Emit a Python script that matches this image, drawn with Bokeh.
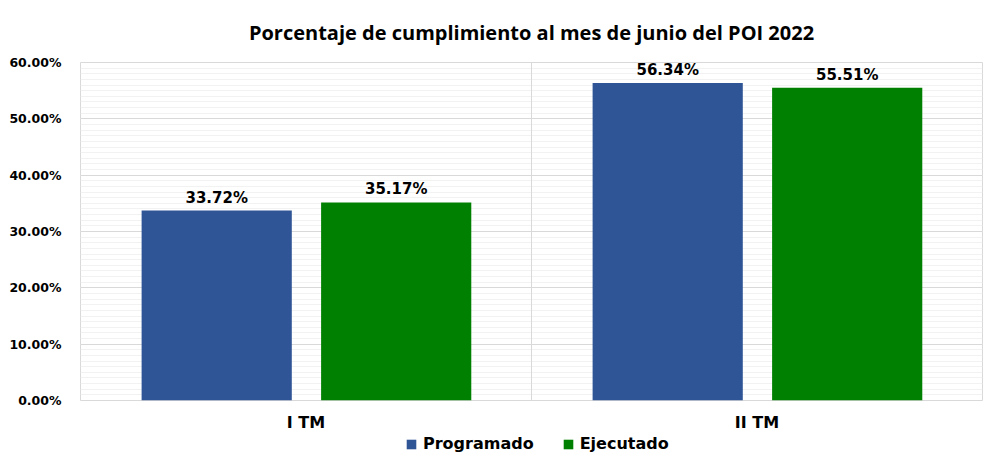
from bokeh.plotting import figure
from bokeh.models import ColumnDataSource, FactorRange, Range1d, NumeralTickFormatter, Span, Legend, LegendItem, Title, FixedTicker
from bokeh.layouts import column
from bokeh.transform import dodge
from bokeh.core.properties import value
from bokeh.embed import file_html
from bokeh.resources import INLINE

categories = ["I TM", "II TM"]
programado = [0.3372, 0.5634]
ejecutado = [0.3517, 0.5551]
prog_labels = ["33.72%", "56.34%"]
ejec_labels = ["35.17%", "55.51%"]
series_names = ["Programado", "Ejecutado"]
colors = ["#2F5597", "#008000"]

src = ColumnDataSource(dict(cat=categories, prog=programado, ejec=ejecutado,
                            pl=prog_labels, el=ejec_labels))

p = figure(width=984, height=434, x_range=FactorRange(*categories, range_padding=0),
           y_range=Range1d(0, 0.6), output_backend="svg", toolbar_location=None,
           min_border_left=80, min_border_right=2, min_border_top=62, min_border_bottom=34)

p.title = Title(text="Porcentaje de cumplimiento al mes de junio del POI 2022", align="center",
                text_font="Open Sans", text_font_size="20px", text_font_style="bold",
                text_color="#000000", standoff=33)

r1 = p.vbar(x=dodge("cat", -0.198, range=p.x_range), top="prog", width=0.333, source=src,
            color=colors[0], line_color=None)
r2 = p.vbar(x=dodge("cat", 0.2, range=p.x_range), top="ejec", width=0.333, source=src,
            color=colors[1], line_color=None)

p.text(x=dodge("cat", -0.198, range=p.x_range), y="prog", text="pl", source=src,
       text_align="center", text_baseline="bottom", y_offset=-4,
       text_font=value("DejaVu Sans"), text_font_style="bold", text_font_size="15px",
       text_color="#000000")
p.text(x=dodge("cat", 0.2, range=p.x_range), y="ejec", text="el", source=src,
       text_align="center", text_baseline="bottom", y_offset=-4,
       text_font=value("DejaVu Sans"), text_font_style="bold", text_font_size="15px",
       text_color="#000000")

p.add_layout(Span(location=1, dimension="height", line_color="#d9d9d9", line_width=1))

# axes
p.yaxis.ticker = FixedTicker(ticks=[0, 0.1, 0.2, 0.3, 0.4, 0.5, 0.6],
                             minor_ticks=[i / 100 for i in range(61)])
p.yaxis.formatter = NumeralTickFormatter(format="0.00%")
for ax in (p.xaxis, p.yaxis):
    ax.axis_line_color = None
    ax.major_tick_line_color = None
    ax.minor_tick_line_color = None
    ax.major_label_text_font = "DejaVu Sans"
    ax.major_label_text_font_style = "bold"
    ax.major_label_text_color = "#000000"
p.yaxis.major_label_text_font_size = "12.5px"
p.yaxis.major_label_standoff = 13
p.xaxis.major_label_text_font_size = "16px"
p.xaxis.major_label_standoff = 6

p.xgrid.grid_line_color = None
p.ygrid.grid_line_color = "#d9d9d9"
p.ygrid.minor_grid_line_color = "#f2f2f2"

p.outline_line_color = "#d9d9d9"
p.background_fill_color = "#ffffff"
p.border_fill_color = "#ffffff"

# legend strip below the chart
p2 = figure(width=984, height=25, x_range=Range1d(0, 1), y_range=Range1d(0, 1),
            output_backend="svg", toolbar_location=None,
            min_border=0, min_border_left=0, min_border_right=0,
            min_border_top=0, min_border_bottom=0)
p2.axis.visible = False
p2.grid.visible = False
p2.outline_line_color = None
l1 = p2.vbar(x=[0.5], top=[0], width=0.1, color=colors[0], line_color=None)
l2 = p2.vbar(x=[0.5], top=[0], width=0.1, color=colors[1], line_color=None)
legend = Legend(items=[LegendItem(label=series_names[0], renderers=[l1]),
                       LegendItem(label=series_names[1], renderers=[l2])],
                orientation="horizontal", location=(325, 6),
                label_text_font="DejaVu Sans", label_text_font_style="bold",
                label_text_font_size="16px", label_text_color="#000000",
                glyph_width=12, glyph_height=12,
                spacing=28, padding=0, margin=0, border_line_color=None,
                background_fill_alpha=0, label_standoff=6, label_height=18)
p2.add_layout(legend, "center")

layout = column(p, p2, spacing=0)
open("out.html", "w").write(file_html(layout, INLINE))
